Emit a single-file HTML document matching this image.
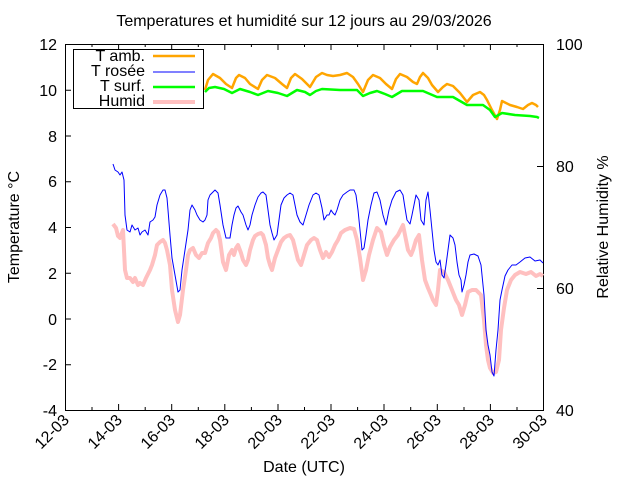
<!DOCTYPE html>
<html><head><meta charset="utf-8"><style>body{margin:0;background:#fff}svg{display:block}text{font-family:"Liberation Sans",sans-serif;font-size:16px;fill:#000}</style></head><body>
<svg width="640" height="480" xmlns="http://www.w3.org/2000/svg">
<text x="304" y="26" text-anchor="middle">Temperatures et humidité sur 12 jours au 29/03/2026</text>
<g stroke="#000" stroke-width="1" fill="none">
<rect x="65.5" y="44.5" width="478" height="366"/>
<path d="M65 44.5h6M65 90.2h6M65 136h6M65 181.7h6M65 227.5h6M65 273.2h6M65 319h6M65 364.7h6
M543 44.5h-6M543 166.5h-6M543 288.5h-6
M65.5 410v-6M92 410v-3M118.6 410v-3M145.2 410v-3M171.7 410v-6M198.3 410v-3M224.8 410v-3M251.4 410v-3M278 410v-6M304.5 410v-3M331 410v-3M357.6 410v-3M384 410v-6M410.7 410v-3M437.3 410v-3M464 410v-3M490.4 410v-6M517 410v-3
M65.5 44v6M92 44v3M118.6 44v3M145.2 44v3M171.7 44v6M198.3 44v3M224.8 44v3M251.4 44v3M278 44v6M304.5 44v3M331 44v3M357.6 44v3M384 44v6M410.7 44v3M437.3 44v3M464 44v3M490.4 44v6M517 44v3
M118.6 410v-6M224.8 410v-6M331 410v-6M437.3 410v-6M118.6 44v6M224.8 44v6M331 44v6M437.3 44v6"/>
</g>
<g text-anchor="end">
<text x="57" y="50">12</text><text x="57" y="96">10</text><text x="57" y="142">8</text><text x="57" y="187">6</text><text x="57" y="233">4</text><text x="57" y="279">2</text><text x="57" y="325">0</text><text x="57" y="370">-2</text><text x="57" y="416">-4</text>
</g>
<g><text x="556" y="50">100</text><text x="556" y="172">80</text><text x="556" y="294">60</text><text x="556" y="416">40</text></g>
<g text-anchor="end">
<text transform="translate(70,421) rotate(-45)">12-03</text>
<text transform="translate(123,421) rotate(-45)">14-03</text>
<text transform="translate(176,421) rotate(-45)">16-03</text>
<text transform="translate(230,421) rotate(-45)">18-03</text>
<text transform="translate(283,421) rotate(-45)">20-03</text>
<text transform="translate(336,421) rotate(-45)">22-03</text>
<text transform="translate(389,421) rotate(-45)">24-03</text>
<text transform="translate(442,421) rotate(-45)">26-03</text>
<text transform="translate(495,421) rotate(-45)">28-03</text>
<text transform="translate(548,421) rotate(-45)">30-03</text>
</g>
<text x="304" y="472" text-anchor="middle">Date (UTC)</text>
<text transform="translate(19,227) rotate(-90)" text-anchor="middle">Temperature °C</text>
<text transform="translate(608,227) rotate(-90)" text-anchor="middle">Relative Humidity %</text>
<g fill="none" stroke-linejoin="round">
<polyline stroke="#ffc0c0" stroke-width="4" points="113,224 116,228 118,236 120,238 123,230 125,270 127,278 130,278 133,282 135,278 138,285 140,283 143,285 146,278 150,270 152,265 155,255 157,245 160,242 163,240 165,243 167,250 170,265 172,290 175,310 178,322 180,315 183,290 186,270 188,255 190,250 193,248 196,255 199,258 202,253 205,253 208,243 211,238 213,233 216,230 218,232 220,240 223,262 226,270 229,255 232,250 234,255 236,248 238,245 241,253 243,260 246,265 248,260 250,250 253,240 255,236 258,234 261,233 263,235 266,245 268,258 270,265 272,270 275,258 278,250 281,242 284,238 287,236 290,235 293,240 296,252 298,260 301,265 304,255 307,245 311,240 314,238 317,240 320,250 323,258 326,252 329,257 332,252 335,245 338,240 341,233 345,230 350,228 354,229 357,240 360,258 363,280 366,270 369,255 373,240 377,228 381,232 384,245 387,255 390,247 394,240 398,235 403,225 406,240 408,250 411,255 413,250 416,240 419,235 422,260 425,280 428,288 431,295 433,300 436,305 438,290 440,270 444,272 448,280 452,290 456,300 459,305 462,315 465,305 468,292 472,290 476,290 481,295 484,320 486,345 488,360 490,368 493,373 496,372 499,360 501,330 504,308 507,290 511,280 515,275 520,272 526,274 531,272 536,276 540,274 543,276"/>
<polyline stroke="#0000ff" stroke-width="1" points="113,164 115,170 118,172 120,175 122,172 124,180 125,215 127,230 130,232 132,225 135,230 138,228 140,235 142,232 145,230 148,235 150,222 153,220 155,217 157,205 160,195 163,190 165,190 167,198 168,210 170,235 172,258 175,275 178,292 180,290 182,270 185,250 188,230 190,210 192,205 195,210 197,215 200,220 203,222 205,220 207,215 208,200 210,195 213,192 215,190 218,193 220,205 223,225 226,238 230,238 232,225 234,215 236,208 238,206 241,212 243,215 246,225 248,230 250,225 252,215 255,205 258,197 261,193 263,192 266,195 268,210 270,225 272,233 274,240 277,235 279,220 281,205 284,198 287,195 290,193 293,195 295,205 297,215 300,222 303,225 306,215 309,205 313,195 316,193 319,195 322,208 324,220 327,215 329,215 331,210 333,213 335,215 337,210 340,200 343,195 347,192 350,190 354,190 356,195 358,210 360,230 362,250 364,248 366,235 368,220 371,205 374,193 377,192 380,200 383,215 386,225 389,210 392,200 396,192 400,190 403,195 405,208 407,220 410,224 412,215 414,205 416,195 419,200 421,220 424,225 426,200 428,192 430,210 432,230 434,250 436,262 438,265 440,260 442,275 444,278 446,265 448,250 450,235 453,238 455,245 457,262 459,275 461,280 462,292 464,285 466,275 468,262 470,255 474,254 478,256 481,265 484,295 486,330 488,345 490,355 492,372 494,376 496,350 498,330 500,300 502,290 505,276 508,270 512,265 516,265 520,262 525,258 530,257 535,261 540,260 543,263"/>
<polyline stroke="#ffa500" stroke-width="2.5" points="205,90 208,80 213,74 220,78 226,84 232,88 236,78 239,75 245,78 250,84 258,89 262,80 267,75 275,78 282,84 287,88 291,78 295,74 302,79 310,87 316,77 322,73 327,75 333,76 340,75 347,73 353,77 358,84 363,92 368,80 373,75 380,78 386,84 392,89 396,79 400,74 407,77 413,82 417,84 420,77 423,73 428,78 432,85 438,92 443,87 447,84 453,86 460,93 467,102 473,95 480,92 484,95 487,100 492,110 497,119 500,110 502,101 510,105 517,107 523,109 528,105 532,103 536,105 538,107"/>
<polyline stroke="#00ff00" stroke-width="2.5" points="205,92 209,88 215,87 224,89 232,93 240,89 250,92 258,95 268,91 278,93 287,96 297,90 305,92 310,95 316,91 322,89 340,90 357,90 360,93 363,96 370,93 377,91 385,94 392,97 402,91 412,91 423,91 430,94 437,97 445,97 453,97 460,101 467,105 475,105 483,105 490,110 495,117 502,113 515,115 530,116 537,117 539,118"/>
</g>
<rect x="73.5" y="49.5" width="130" height="59" fill="#fff" stroke="#000"/>
<g text-anchor="end"><text x="145" y="61">T amb.</text><text x="145" y="76">T rosée</text><text x="145" y="91">T surf.</text><text x="145" y="106">Humid</text></g>
<g><line x1="153" y1="56" x2="195" y2="56" stroke="#ffa500" stroke-width="2.5"/><line x1="153" y1="72" x2="195" y2="72" stroke="#0000ff" stroke-width="1"/><line x1="153" y1="87" x2="195" y2="87" stroke="#00ff00" stroke-width="2.5"/><line x1="153" y1="102" x2="195" y2="102" stroke="#ffc0c0" stroke-width="4"/></g>
</svg>
</body></html>
